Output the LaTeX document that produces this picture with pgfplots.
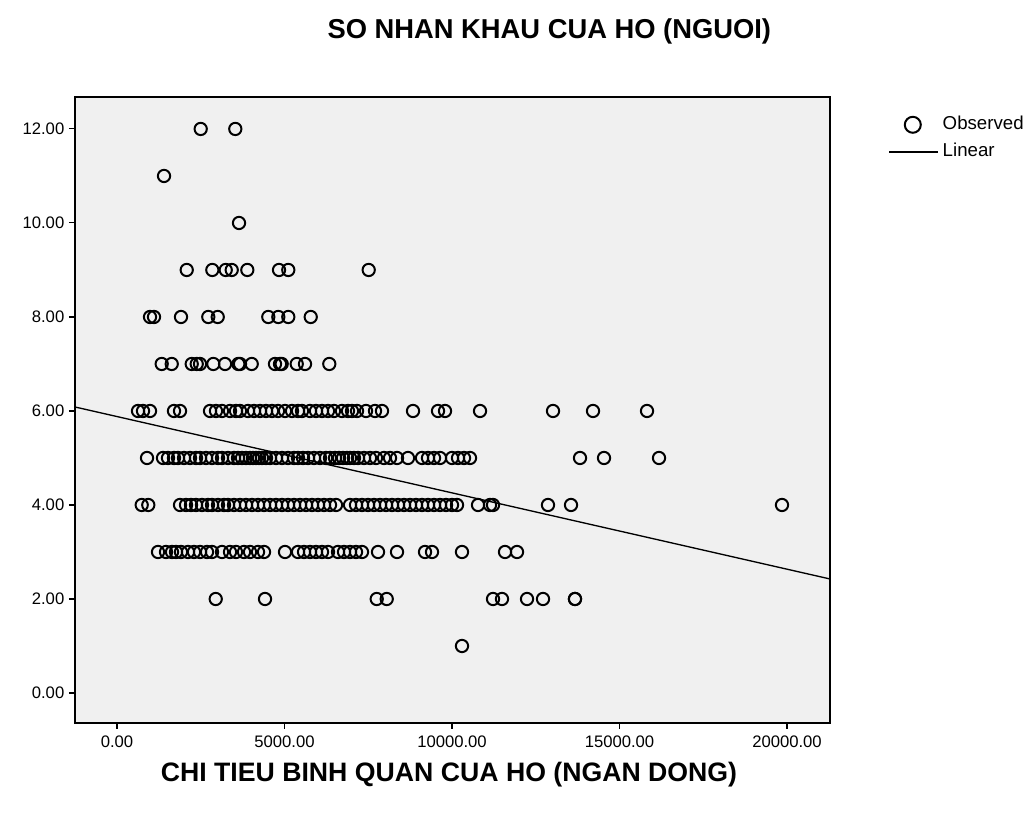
\documentclass[border=0pt]{standalone}
\usepackage{pgfplots}
\pgfplotsset{compat=1.18}
\usepackage{fontspec}
\setmainfont{Liberation Sans}
\definecolor{bgc}{HTML}{F0F0F0}
\pgfplotstableread{
x y
2498 12
3531 12
1403 11
3642 10
2081 9
2845 9
3245 9
3424 9
3890 9
4836 9
5113 9
7513 9
985 8
1104 8
1910 8
2725 8
3006 8
4516 8
4815 8
5113 8
5782 8
1334 7
1633 7
2230 7
2379 7
2478 7
2875 7
3224 7
3621 7
3672 7
4021 7
4716 7
4866 7
4916 7
5364 7
5612 7
6337 7
627 6
776 6
985 6
1701 6
1881 6
2776 6
2955 6
3134 6
3373 6
3552 6
3672 6
3910 6
4089 6
4269 6
4448 6
4627 6
4806 6
5015 6
5224 6
5403 6
5522 6
5761 6
5940 6
6119 6
6298 6
6477 6
6716 6
6895 6
7015 6
7164 6
7433 6
7701 6
7910 6
8836 6
9582 6
9791 6
10836 6
13015 6
14209 6
15821 6
896 5
1373 5
1522 5
1701 5
1821 5
2000 5
2179 5
2358 5
2478 5
2657 5
2836 5
3015 5
3134 5
3313 5
3492 5
3612 5
3731 5
3851 5
3970 5
4060 5
4149 5
4239 5
4328 5
4448 5
4567 5
4746 5
4925 5
5104 5
5284 5
5403 5
5552 5
5701 5
5880 5
6060 5
6239 5
6358 5
6507 5
6627 5
6746 5
6866 5
6955 5
7074 5
7194 5
7373 5
7552 5
7731 5
7970 5
8149 5
8358 5
8686 5
9104 5
9283 5
9463 5
9642 5
10000 5
10179 5
10358 5
10537 5
13821 5
14537 5
16179 5
737 4
934 4
1881 4
2060 4
2209 4
2358 4
2537 4
2716 4
2836 4
3015 4
3194 4
3313 4
3492 4
3672 4
3851 4
4030 4
4209 4
4388 4
4567 4
4746 4
4925 4
5104 4
5284 4
5463 4
5642 4
5821 4
6000 4
6179 4
6358 4
6537 4
6955 4
7134 4
7313 4
7492 4
7671 4
7851 4
8030 4
8209 4
8388 4
8567 4
8746 4
8925 4
9104 4
9283 4
9463 4
9642 4
9821 4
10000 4
10149 4
10776 4
11134 4
11224 4
12865 4
13552 4
19850 4
1224 3
1463 3
1642 3
1761 3
1910 3
2119 3
2298 3
2478 3
2687 3
2836 3
3134 3
3373 3
3552 3
3791 3
3970 3
4209 3
4388 3
5015 3
5403 3
5582 3
5761 3
5940 3
6119 3
6298 3
6597 3
6776 3
6955 3
7134 3
7313 3
7791 3
8358 3
9194 3
9403 3
10298 3
11582 3
11940 3
2946 2
4418 2
7752 2
8051 2
11224 2
11492 2
12239 2
12716 2
13671 2
13671 2
10298 1
}\observed
\begin{document}
\begin{tikzpicture}
\useasboundingbox (0,0) rectangle (777pt,609.75pt);
\begin{axis}[
  at={(56.25pt,67.5pt)}, anchor=south west,
  scale only axis, width=566.25pt, height=469.5pt,
  xmin=-1254, xmax=21283, ymin=-0.638, ymax=12.68,
  axis background/.style={fill=bgc},
  axis line style={black, line width=0.8pt},
  tick pos=left, tick align=outside, major tick length=4.5pt,
  tick style={black, line width=0.8pt},
  xtick={0,5000,10000,15000,20000}, ytick={0,2,...,12},
  scaled ticks=false,
  /pgf/number format/assume math mode=true,
  yticklabel style={/pgf/number format/fixed, /pgf/number format/fixed zerofill, /pgf/number format/precision=2},
  xticklabel style={yshift=-1.5pt, /pgf/number format/fixed, /pgf/number format/fixed zerofill, /pgf/number format/precision=2, /pgf/number format/1000 sep={}},
  ticklabel style={font=\fontsize{12.5}{14}\selectfont, text=black},
  legend style={at={(1.077,0.972)}, anchor=north west, draw=none, fill=none,
    font=\fontsize{14}{16}\selectfont, row sep=5.5pt, cells={anchor=west},
    inner sep=0pt, nodes={inner ysep=1pt, inner xsep=3pt, text height=10pt, text depth=3pt}},
]
\addplot[only marks, mark=o, mark size=4.6pt, mark options={black, line width=1.5pt},
  legend image code/.code={\path (0pt,0pt) (36.75pt,0pt); \draw[black, line width=1.5pt] (17.8pt,0pt) circle (6pt);}]
  table[x=x, y=y] {\observed};
\addlegendentry{Observed}
\addplot[black, line width=1pt,
  legend image code/.code={\draw[black, line width=1pt] (0pt,0pt) -- (36.75pt,0pt);}]
  coordinates {(-1254,6.085) (21283,2.426)};
\addlegendentry{Linear}
\end{axis}
\node[font=\bfseries\fontsize{20.5}{24}\selectfont] at (412pt,586pt) {SO NHAN KHAU CUA HO (NGUOI)};
\node[font=\bfseries\fontsize{20}{24}\selectfont] at (336.75pt,28.5pt) {CHI TIEU BINH QUAN CUA HO (NGAN DONG)};
\end{tikzpicture}
\end{document}
